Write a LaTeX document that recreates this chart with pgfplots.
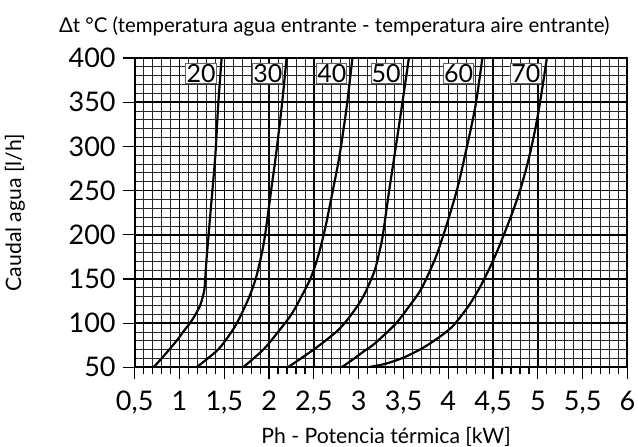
\documentclass[border=0pt]{standalone}
\usepackage{fontspec}
\setmainfont{Lato}
\usepackage{pgfplots}
\pgfplotsset{compat=1.18}

\begin{document}
\begin{tikzpicture}
\useasboundingbox (-67.35pt,-39.35pt) rectangle (251.65pt,183.65pt);
\begin{axis}[
  at={(0,0)}, anchor=south west,
  scale only axis, width=246.4pt, height=154.65pt,
  xmin=0.5, xmax=6, ymin=50, ymax=400,
  xtick={0.5,1,1.5,2,2.5,3,3.5,4,4.5,5,5.5,6},
  xticklabels={{0,5},1,{1,5},2,{2,5},3,{3,5},4,{4,5},5,{5,5},6},
  ytick={50,100,150,200,250,300,350,400},
  minor x tick num=4, minor y tick num=4,
  grid=both,
  major grid style={black, line width=0.75pt},
  minor grid style={black!85, line width=0.4pt},
  tick align=outside, xtick pos=bottom, ytick pos=left,
  major tick length=6pt, minor tick length=3.5pt,
  every tick/.append style={black, line width=0.6pt},
  minor y tick style={draw=none},
  axis line style={line width=1pt},
  tick label style={font=\fontsize{13.5}{15}\selectfont},
  xticklabel style={yshift=-2.5pt},
  /pgf/number format/assume math mode=true,
  label style={font=\fontsize{10.6}{12}\selectfont},
  xlabel={Ph - Potencia térmica [kW]},
  xlabel style={at={(axis description cs:0.51,-0.2263)}, anchor=center},
  ylabel={Caudal agua [l/h]},
  ylabel style={at={(axis description cs:-0.2429,0.5)}, anchor=center},
  every axis title shift=0pt,
  title={Δt °C (temperatura agua entrante - temperatura aire entrante)},
  title style={at={(axis description cs:0.405,1.103)}, anchor=center,
    font=\fontsize{10.2}{12}\selectfont},
]
% Delta t = 20
\addplot[black, line width=1.1pt, smooth] coordinates {
  (0.71,50) (0.80,60) (0.968,80) (1.04,90) (1.117,100) (1.18,110) (1.23,120)
  (1.26,130) (1.28,140) (1.30,170) (1.35,230) (1.40,290) (1.43,344) (1.47,400)};
% Delta t = 30
\addplot[black, line width=1.1pt, smooth] coordinates {
  (1.19,50) (1.43,70) (1.58,90) (1.64,100) (1.69,110) (1.78,130) (1.85,150)
  (1.895,168) (1.94,190) (1.975,214) (2.025,252) (2.075,289) (2.14,344) (2.195,400)};
% Delta t = 40
\addplot[black, line width=1.1pt, smooth] coordinates {
  (1.71,50) (1.935,70) (2.10,90) (2.25,110) (2.36,130) (2.46,150) (2.53,170)
  (2.585,190) (2.64,214) (2.715,252) (2.785,289) (2.865,344) (2.93,400)};
% Delta t = 50
\addplot[black, line width=1.1pt, smooth] coordinates {
  (2.21,50) (2.51,71) (2.77,92) (2.92,110) (3.04,128) (3.12,145) (3.18,160)
  (3.23,180) (3.27,200) (3.34,250) (3.40,290) (3.48,344) (3.56,400)};
% Delta t = 60
\addplot[black, line width=1.1pt, smooth] coordinates {
  (2.81,50) (2.95,60) (3.07,69) (3.18,77) (3.41,99) (3.57,120) (3.70,139)
  (3.85,172) (3.92,192) (3.99,214) (4.10,252) (4.18,287) (4.30,344) (4.38,400)};
% Delta t = 70
\addplot[black, line width=1.1pt, smooth] coordinates {
  (3.10,50) (3.30,54) (3.50,61) (3.70,71) (3.87,82) (4.00,92) (4.08,100)
  (4.23,120) (4.35,140) (4.45,160) (4.54,180) (4.62,200) (4.715,225) (4.80,250)
  (4.87,275) (4.93,300) (4.99,330) (5.04,360) (5.10,400)};

\draw[line width=1.4pt] (rel axis cs:0,1) -- (rel axis cs:0,0) -- (rel axis cs:1,0);

\tikzset{lbl/.style={draw=black!60, fill=white, line width=0.5pt, inner sep=0.3pt,
  minimum width=14pt, minimum height=10pt, font=\fontsize{12.5}{13}\selectfont}}
\node[lbl] at (axis cs:1.24,382) {20};
\node[lbl] at (axis cs:1.985,382) {30};
\node[lbl] at (axis cs:2.70,382) {40};
\node[lbl] at (axis cs:3.306,382) {50};
\node[lbl] at (axis cs:4.116,382) {60};
\node[lbl] at (axis cs:4.867,382) {70};
\end{axis}
\end{tikzpicture}
\end{document}
